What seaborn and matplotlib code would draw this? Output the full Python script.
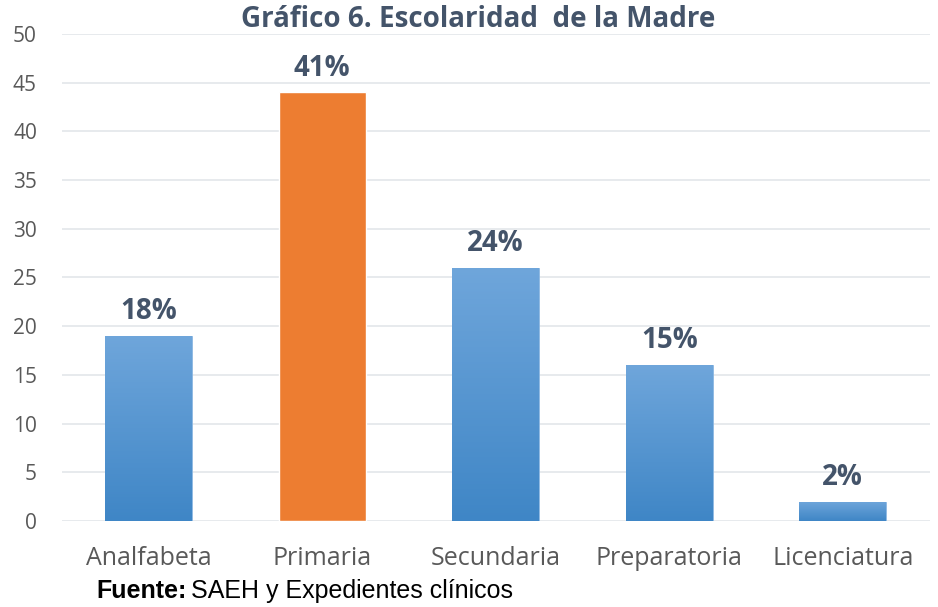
import numpy as np
import pandas as pd
import matplotlib
matplotlib.use("Agg")
import matplotlib.pyplot as plt
import seaborn as sns

categorias = ["Analfabeta", "Primaria", "Secundaria", "Preparatoria", "Licenciatura"]
valores = [19, 44, 26, 16, 2]
etiquetas = ["18%", "41%", "24%", "15%", "2%"]

df = pd.DataFrame({"nivel": categorias, "n": valores})

sns.set_style("white")
plt.rcParams["font.family"] = ["Open Sans", "DejaVu Sans"]

fig = plt.figure(figsize=(9.38, 6.07), dpi=100)
ax = fig.add_axes([0.066, 0.1417, 0.925, 0.8025])

colores = ["#5B9BD5", "#ED7D31", "#5B9BD5", "#5B9BD5", "#5B9BD5"]
sns.barplot(data=df, x="nivel", y="n", hue="nivel", palette=colores, saturation=1,
            legend=False, width=0.5, ax=ax, zorder=3)

# degradado azul en las barras (no en la naranja)
grad = np.linspace(0, 1, 256).reshape(-1, 1)
cmap = matplotlib.colors.LinearSegmentedColormap.from_list("azul", ["#3F86C6", "#6FA6DB"])
for i, p in enumerate(ax.patches):
    if categorias[i] == "Primaria":
        continue
    x0, y0 = p.get_x(), p.get_y()
    w, h = p.get_width(), p.get_height()
    im = ax.imshow(grad, cmap=cmap, aspect="auto", origin="lower",
                   extent=[x0, x0 + w, y0, y0 + h], zorder=3.5)
    im.set_clip_path(p)
    p.set_edgecolor("#8DB8E2")
    p.set_linewidth(0.6)

for i, p in enumerate(ax.patches):
    ax.text(p.get_x() + p.get_width() / 2, p.get_height() + 1.0, etiquetas[i],
            ha="center", va="bottom", fontsize=20, fontweight="bold", color="#44546A", zorder=5)

ax.set_xlim(-0.5, 4.5)
ax.set_ylim(0, 50)
ax.set_yticks(range(0, 51, 5))
ax.yaxis.grid(True, color="#E3E6EA", linewidth=1.2, zorder=0)
ax.set_axisbelow(True)
for s in ax.spines.values():
    s.set_visible(False)
ax.set_xlabel("")
ax.set_ylabel("")
ax.tick_params(axis="x", labelsize=18, colors="#595959", length=0, pad=18)
ax.tick_params(axis="y", labelsize=15, colors="#595959", length=0, pad=18)

fig.text(0.51, 0.968, "Gráfico 6. Escolaridad  de la Madre", ha="center", va="center",
         fontsize=20, fontweight="bold", color="#44546A")
fuente = fig.text(0.103, 0.027, "Fuente:", ha="left", va="center", fontsize=18,
                  fontweight="bold", color="black", family=["Liberation Sans"])
ax.annotate("SAEH y Expedientes clínicos", xy=(1, 0.5), xycoords=fuente,
            xytext=(3, 0), textcoords="offset points", ha="left", va="center",
            fontsize=18, color="black", family=["Liberation Sans"], annotation_clip=False)

fig.savefig("out.png", dpi=100)
